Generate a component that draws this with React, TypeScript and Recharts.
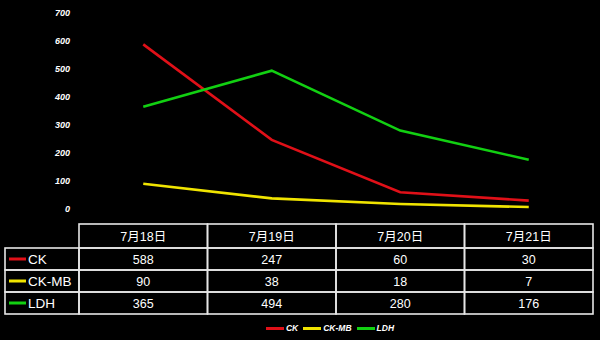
import React from 'react';
import { LineChart, Line, XAxis, YAxis, Legend } from 'recharts';

const categories = ['7月18日', '7月19日', '7月20日', '7月21日'];
const ckValues = [588, 247, 60, 30];
const ckmbValues = [90, 38, 18, 7];
const ldhValues = [365, 494, 280, 176];
const yTicks = [0, 100, 200, 300, 400, 500, 600, 700];

const seriesNames = ['CK', 'CK-MB', 'LDH'];
const seriesColors = ['#e01018', '#f0e400', '#12d012'];
const seriesValues = [ckValues, ckmbValues, ldhValues];

const data = categories.map((c, i) => ({
  name: c,
  CK: ckValues[i],
  'CK-MB': ckmbValues[i],
  LDH: ldhValues[i],
}));

const FONT = '"Liberation Sans", Arial, "Noto Sans CJK SC", sans-serif';
const W = 600;
const H = 340;
const MARGIN = { top: 13, right: 7, left: 0, bottom: 0 };
const YAXIS_W = 79;
const PLOT_W = W - MARGIN.left - MARGIN.right - YAXIS_W;
const COL_W = PLOT_W / categories.length;
const LABEL_LEFT = 5;
const TABLE_GAP = 15;
const HEADER_H = 24;
const ROW_H = 22;
const LINE_COLOR = '#e6e6e6';

const TableTick = (props: any) => {
  const { x, y, payload } = props;
  const idx = payload.index;
  const left = x - COL_W / 2;
  const top = y + TABLE_GAP;
  const cells: React.ReactNode[] = [];
  cells.push(
    <rect key="hdr" x={left} y={top} width={COL_W} height={HEADER_H} fill="none" stroke={LINE_COLOR} strokeWidth={1.6} />
  );
  cells.push(
    <text key="hdrt" x={x} y={top + HEADER_H / 2 + 4.5} textAnchor="middle" fill="#fff" fontSize={12.5} fontFamily={FONT}>
      {payload.value}
    </text>
  );
  seriesValues.forEach((vals, r) => {
    const ry = top + HEADER_H + r * ROW_H;
    cells.push(
      <rect key={'r' + r} x={left} y={ry} width={COL_W} height={ROW_H} fill="none" stroke={LINE_COLOR} strokeWidth={1.6} />
    );
    cells.push(
      <text key={'t' + r} x={x} y={ry + ROW_H / 2 + 4.5} textAnchor="middle" fill="#fff" fontSize={12.5} fontFamily={FONT}>
        {vals[idx]}
      </text>
    );
  });
  if (idx === 0) {
    seriesNames.forEach((n, r) => {
      const ry = top + HEADER_H + r * ROW_H;
      cells.push(
        <rect key={'l' + r} x={LABEL_LEFT} y={ry} width={left - LABEL_LEFT} height={ROW_H} fill="none" stroke={LINE_COLOR} strokeWidth={1.6} />
      );
      cells.push(
        <line key={'ld' + r} x1={LABEL_LEFT + 4} x2={LABEL_LEFT + 21} y1={ry + ROW_H / 2} y2={ry + ROW_H / 2} stroke={seriesColors[r]} strokeWidth={3} />
      );
      cells.push(
        <text key={'lt' + r} x={LABEL_LEFT + 23} y={ry + ROW_H / 2 + 5} fill="#fff" fontSize={13.5} fontFamily={FONT}>
          {n}
        </text>
      );
    });
  }
  return <g>{cells}</g>;
};

const LegendContent = () => (
  <div style={{ display: 'flex', justifyContent: 'center', alignItems: 'center', height: 20, paddingLeft: 72 }}>
    {seriesNames.map((n, i) => (
      <div key={n} style={{ display: 'flex', alignItems: 'center', marginRight: 5 }}>
        <div style={{ width: 18, height: 3, background: seriesColors[i], marginRight: 2 }} />
        <span style={{ color: '#fff', fontSize: 8.5, fontStyle: 'italic', fontWeight: 'bold', fontFamily: FONT }}>{n}</span>
      </div>
    ))}
  </div>
);

export default function App() {
  return (
    <div style={{ position: 'fixed', left: 0, top: 0, width: W, height: H, background: '#000' }}>
      <LineChart width={W} height={H} data={data} margin={MARGIN}>
        <XAxis
          dataKey="name"
          axisLine={false}
          tickLine={false}
          tickSize={0}
          tickMargin={0}
          height={109}
          interval={0}
          padding={{ left: COL_W / 2, right: COL_W / 2 }}
          tick={<TableTick />}
        />
        <YAxis
          width={YAXIS_W}
          domain={[0, 700]}
          ticks={yTicks}
          axisLine={false}
          tickLine={false}
          tickSize={0}
          tickMargin={9}
          tick={{ fill: '#fff', fontSize: 9, fontStyle: 'italic', fontWeight: 'bold', fontFamily: FONT }}
        />
        <Legend verticalAlign="bottom" height={22} content={<LegendContent />} />
        {seriesNames.map((n, i) => (
          <Line
            key={n}
            dataKey={n}
            stroke={seriesColors[i]}
            strokeWidth={2.6}
            dot={false}
            isAnimationActive={false}
          />
        ))}
      </LineChart>
    </div>
  );
}
